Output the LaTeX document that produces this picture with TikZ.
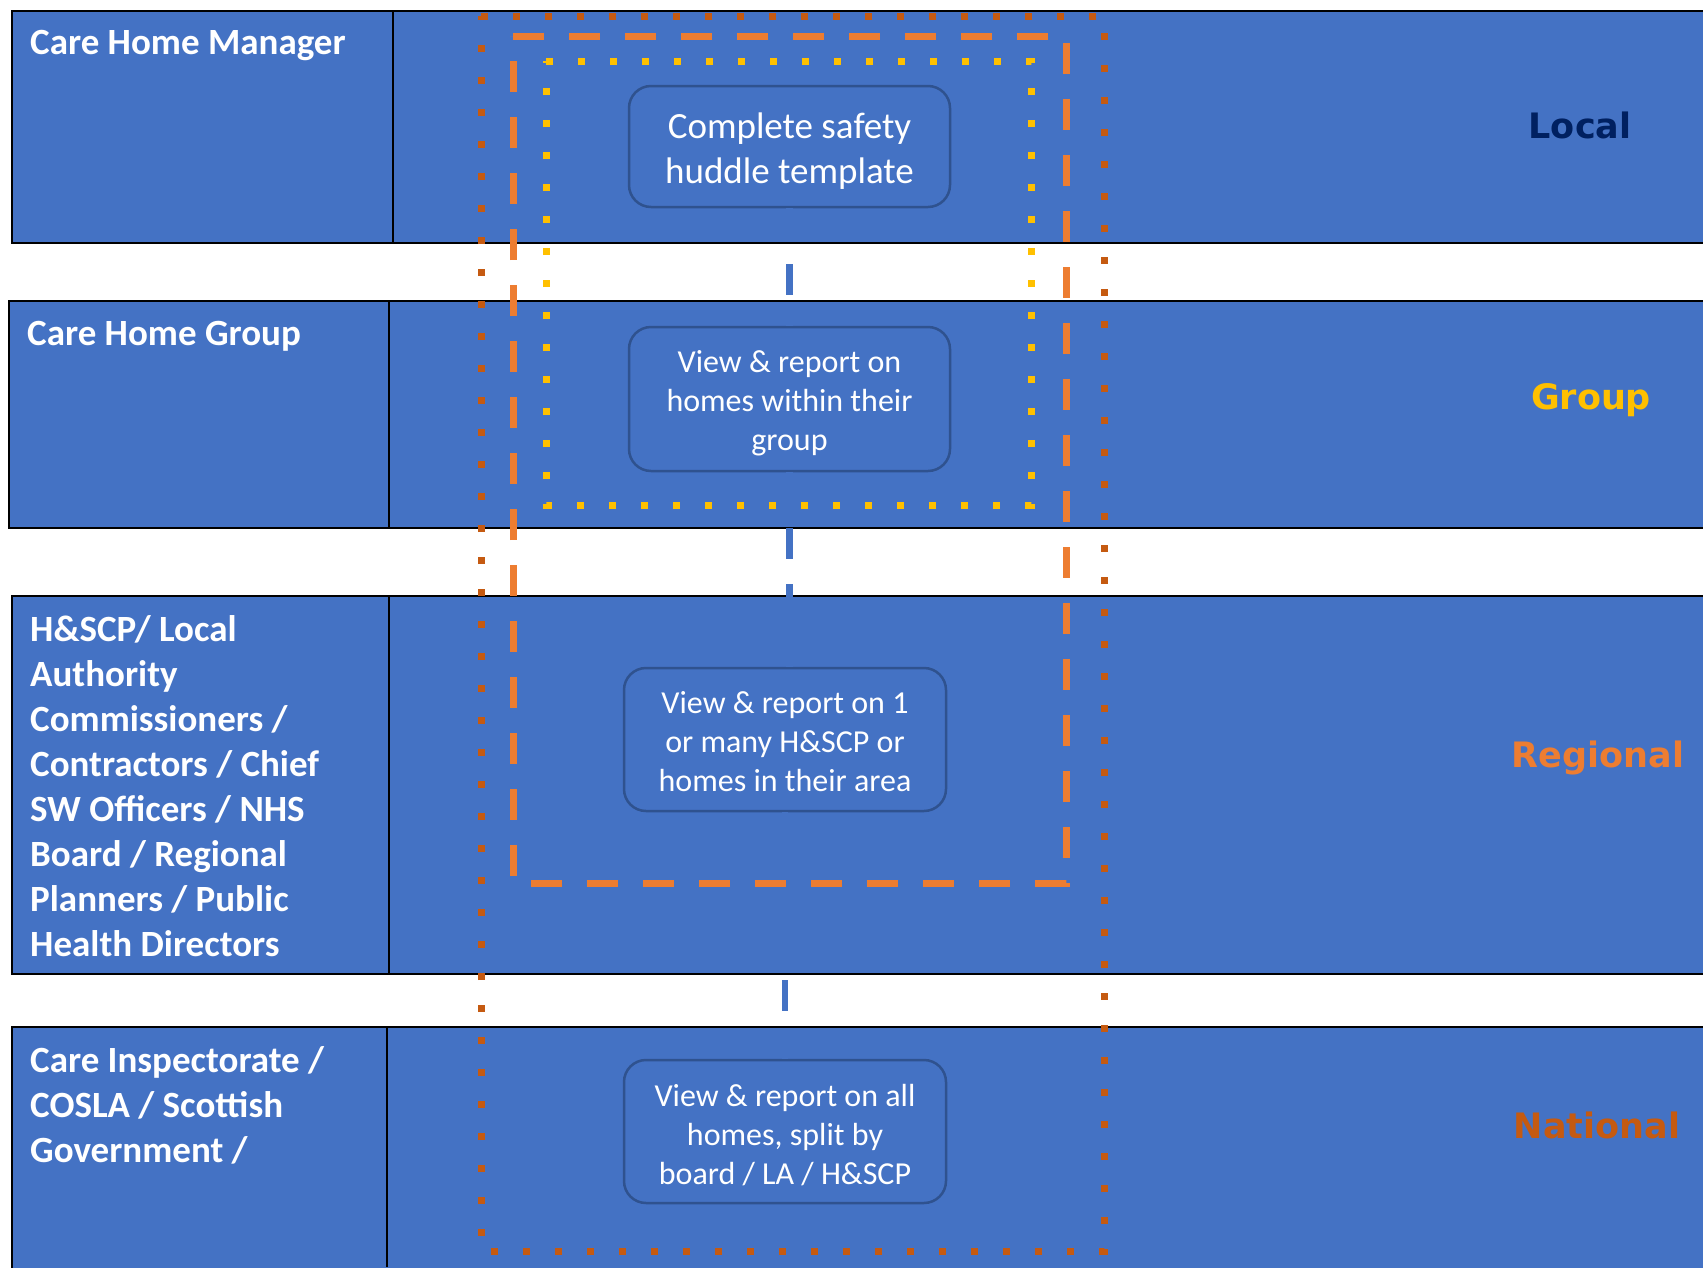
\documentclass[tikz,border=0pt]{standalone}
\usepackage{fontspec}
\setmainfont{Carlito}
\newfontfamily\lblfont{DejaVu Sans}
\definecolor{bandblue}{HTML}{4472C4}
\definecolor{boxedge}{HTML}{2F528F}
\definecolor{navy}{HTML}{002060}
\definecolor{gold}{HTML}{FFC000}
\definecolor{orng}{HTML}{ED7D31}
\definecolor{rust}{HTML}{C55A11}
\begin{document}
\begin{tikzpicture}[x=1pt,y=-1pt,
  band/.style={fill=bandblue,draw=black,line width=2.5pt},
  divider/.style={draw=black,line width=2.5pt},
  stepbox/.style={draw=boxedge,fill=bandblue,line width=2.5pt,rounded corners=22pt,inner sep=0pt},
  boxtext/.style={text=white,align=center,inner sep=0pt},
  bigtxt/.style={font=\fontsize{37}{45}\selectfont},
  smalltxt/.style={font=\fontsize{32}{39}\selectfont},
  lefttxt/.style={font=\bfseries\fontsize{37}{45}\selectfont,text=white,inner sep=0pt,align=left},
  lvltxt/.style={font=\lblfont\bfseries\fontsize{35}{42}\selectfont,inner sep=0pt,anchor=base},
  link/.style={draw=bandblue,line width=6.5pt,dash pattern=on 31pt off 25pt},
  dotframe/.style={line width=7pt,dash pattern=on 7pt off 25pt},
  dashframe/.style={draw=orng,line width=7pt,dash pattern=on 31pt off 25pt}]
\useasboundingbox (0,0) rectangle (1703,1267);
\clip (0,0) rectangle (1703,1267);
\fill[white] (0,0) rectangle (1703,1267);
% bands
\draw[band] (12,11) rectangle (1720,243);
\draw[band] (9,301) rectangle (1720,528);
\draw[band] (12,596) rectangle (1720,974);
\draw[band] (12,1027) rectangle (1720,1300);
\draw[divider] (393,11) -- (393,243);
\draw[divider] (389,301) -- (389,528);
\draw[divider] (389,596) -- (389,974);
\draw[divider] (387,1027) -- (387,1267);
% boxes
\node[stepbox,minimum width=321pt,minimum height=121pt] (b1) at (789.5,146.5) {};
\node[stepbox,minimum width=321pt,minimum height=144pt] (b2) at (789.5,399) {};
\node[stepbox,minimum width=322pt,minimum height=143pt] (b3) at (785,739.5) {};
\node[stepbox,minimum width=322pt,minimum height=143pt] (b4) at (785,1131.5) {};
\node[boxtext,bigtxt] (b1t) at ([yshift=-5pt]b1.center) {Complete safety\\huddle template};
\node[boxtext,smalltxt] (b2t) at ([yshift=-4.5pt]b2.center) {View \& report on\\homes within their\\group};
\node[boxtext,smalltxt] (b3t) at ([yshift=-2.5pt]b3.center) {View \& report on 1\\or many H\&SCP or\\homes in their area};
\node[boxtext,smalltxt] (b4t) at ([yshift=-4pt]b4.center) {View \& report on all\\homes, split by\\board / LA / H\&SCP};
% connectors
\draw[link] (b1.south) -- (b2.north);
\draw[link] (b2.south) -- (b2.south |- b3.north);
\draw[link] (b3.south) -- (b4.north);
% frames
\draw[dotframe,draw=rust] (481,16) -- (1104,16) -- (1104,1251) -- (481,1251) -- cycle;
\draw[dashframe] (513,36) -- (1066,36) -- (1066,883) -- (513,883) -- cycle;
\draw[dotframe,draw=gold] (546,61) -- (1031,61) -- (1031,505) -- (546,505) -- cycle;
% left labels
\node[lefttxt,anchor=base west] (t1) at (30,54) {Care Home Manager};
\node[lefttxt,anchor=base west] (t2) at (27,345) {Care Home Group};
\node[lefttxt,anchor=north west] (t3) at (30,615)
  {H\&SCP/ Local\\Authority\\Commissioners /\\Contractors / Chief\\SW Officers / NHS\\Board / Regional\\Planners / Public\\Health Directors};
\node[lefttxt,anchor=north west] (t4) at (30,1046)
  {Care Inspectorate /\\COSLA / Scottish\\Government /};
% level labels
\node[lvltxt,text=navy] (l1) at (1580,138) {Local};
\node[lvltxt,text=gold] (l2) at (1591,409) {Group};
\node[lvltxt,text=orng] (l3) at (1598,767) {Regional};
\node[lvltxt,text=rust] (l4) at (1597,1138) {National};
\end{tikzpicture}
\end{document}
